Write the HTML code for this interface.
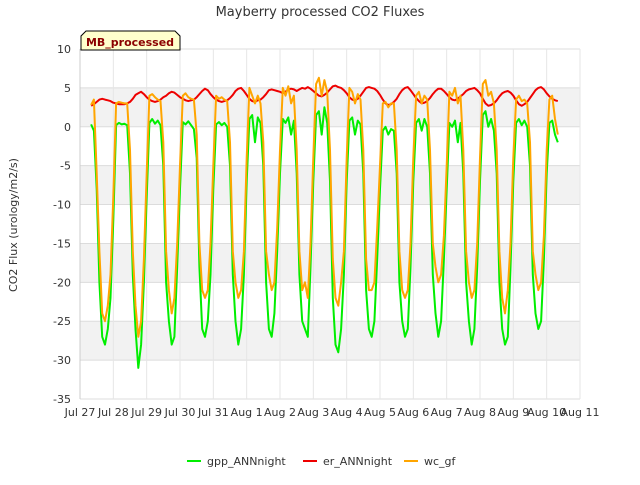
<!DOCTYPE html>
<html><head><meta charset="utf-8"><style>
body{margin:0;background:#fff;font-family:"Liberation Sans","DejaVu Sans",sans-serif}
svg text{font-family:"DejaVu Sans","Liberation Sans",sans-serif}
</style></head><body>
<svg id="chart" width="640" height="480" viewBox="0 0 640 480">
<text x="320" y="16" text-anchor="middle" font-size="13" fill="#333">Mayberry processed CO2 Fluxes</text>
<text transform="translate(17,225) rotate(-90)" text-anchor="middle" font-size="11" fill="#333">CO2 Flux (urology/m2/s)</text>
<g id="grid"></g>
<g id="series"></g>
<g id="axes"></g>
<g>
<path d="M81,50 L81,36 L86,31 L175,31 L180,36 L180,50 Z" fill="#ffffcc" stroke="#000" stroke-width="1"/>
<text x="130" y="46" text-anchor="middle" font-size="11" font-weight="bold" fill="#8b0000">MB_processed</text>
</g>
<g id="legend"></g>
</svg>
<script>
const xTickLabels=["Jul 27","Jul 28","Jul 29","Jul 30","Jul 31","Aug 1","Aug 2","Aug 3","Aug 4","Aug 5","Aug 6","Aug 7","Aug 8","Aug 9","Aug 10","Aug 11"];
const yTicks=[10,5,0,-5,-10,-15,-20,-25,-30,-35];
const seriesNames=["gpp_ANNnight","er_ANNnight","wc_gf"];
const startDay=0.333; // days after Jul 27, 2-hour steps
const stepDays=1/12;
const gpp=[0.3,-0.5,-8,-20,-27,-28,-26,-22,
-12,0.2,0.5,0.3,0.4,0.2,-6,-19,-26,-31,-28,-20,
-9,0.5,1.0,0.4,0.8,0.2,-5,-20,-25,-28,-27,-18,
-8,0.6,0.3,0.7,0.2,-0.3,-4,-18,-26,-27,-25,-19,
-8,0.3,0.6,0.2,0.5,0,-5,-19,-25,-28,-26,-19,
-7,1,1.5,-2,1.2,0.5,-5,-20,-26,-27,-24,-16,
-6,1,0.5,1.2,-1,0.8,-6,-19,-25,-26,-27,-18,
-7,1.5,2,-1,2.5,0.5,-7,-22,-28,-29,-26,-19,
-7,0.8,1.2,-1,0.8,0.3,-6,-21,-26,-27,-25,-17,
-8,-0.5,0,-1,-0.3,-0.5,-6,-20,-25,-27,-26,-18,
-7,0.5,1,-0.5,1,0,-6,-19,-24,-27,-25,-17,
-8,0.5,0,0.8,-2,0.5,-6,-20,-25,-28,-26,-18,
-7,1.5,2,0,1,-0.5,-6,-20,-26,-28,-27,-18,
-7,0.5,1,0.2,0.8,0,-5,-19,-24,-26,-25,-17,
-6,0.5,0.8,-1,-2];
const er=[2.7,2.9,3.2,3.5,3.6,3.5,3.4,3.3,
3.1,3.0,2.9,2.9,2.9,3.0,3.2,3.6,4.1,4.3,4.5,4.2,
3.8,3.5,3.3,3.2,3.3,3.5,3.8,4.0,4.3,4.5,4.4,4.1,
3.8,3.6,3.4,3.3,3.4,3.5,3.8,4.2,4.6,4.9,4.7,4.2,
3.8,3.5,3.3,3.2,3.3,3.4,3.7,4.1,4.6,4.9,5.0,4.6,
4.1,3.6,3.3,3.2,3.4,3.5,3.8,4.2,4.7,4.8,4.7,4.6,
4.5,4.3,4.5,4.8,4.9,4.8,4.6,4.8,5.0,4.9,5.1,4.9,
4.6,4.3,4.0,3.9,4.1,4.4,4.8,5.2,5.3,5.1,5.0,4.7,
4.3,3.8,3.5,3.4,3.6,4.0,4.5,5.0,5.1,5.0,4.9,4.6,
4.1,3.5,3.0,2.8,2.9,3.2,3.6,4.2,4.7,5.0,5.1,4.7,
4.2,3.7,3.3,3.0,3.1,3.3,3.7,4.2,4.6,4.9,4.9,4.6,
4.2,3.8,3.5,3.4,3.6,3.9,4.2,4.6,4.8,4.9,5.0,4.7,
4.3,3.6,3.0,2.7,2.8,3.0,3.4,3.9,4.3,4.5,4.6,4.4,
4.0,3.4,2.9,2.7,2.9,3.2,3.7,4.2,4.7,5.0,5.1,4.8,
4.3,3.9,3.6,3.4,3.3];
const wc=[2.8,3.5,-6,-16,-24,-25,-23,-19,
-9,3,3.2,3.1,3,3,-3,-16,-23,-27,-25,-17,
-6,4,4.2,3.8,3.5,3.3,-2,-16,-21,-24,-22,-15,
-5,4,4.3,3.8,3.6,3.5,-1,-15,-21,-22,-21,-15,
-5,4,3.6,3.8,3.5,3.3,-2,-16,-20,-22,-21,-16,
-4,5,4,3,4,3,-2,-16,-19,-21,-20,-13,
-3,5,4,5.2,3,4,-3,-16,-21,-20,-22,-15,
-4,5.5,6.3,4,6,4.5,-3,-17,-22,-23,-20,-16,
-4,5,4.5,3,4.2,3.5,-3,-17,-21,-21,-20,-13,
-5,3,3.2,2.5,3,3,-3,-16,-21,-22,-21,-15,
-4,4,4.5,3,4,3.5,-3,-15,-18,-20,-19,-14,
-5,4.5,4,5,3,4,-3,-16,-20,-22,-21,-15,
-4,5.5,6,4,4.5,3,-3,-16,-22,-24,-21,-15,
-4,3.5,4,3.3,3.5,3,-2,-16,-19,-21,-20,-14,
-3,3.5,4,1,-1];

const L=80,R=580,T=49,B=399;
const xS=d=>L+d*(R-L)/15;
const yS=v=>T+(10-v)*(B-T)/45;
const NS="http://www.w3.org/2000/svg";
function mk(tag,attrs,parent){const e=document.createElementNS(NS,tag);for(const k in attrs)e.setAttribute(k,attrs[k]);parent.appendChild(e);return e;}
const grid=document.getElementById('grid');
// bands
for(let i=0;i<yTicks.length-1;i++){
  if(i%2===1){const r=mk('rect',{x:L,y:yS(yTicks[i]),width:R-L,height:yS(yTicks[i+1])-yS(yTicks[i]),fill:'#f2f2f2'},grid);
  
  }
}
yTicks.forEach(v=>{const l=mk('line',{x1:L,x2:R,y1:yS(v),y2:yS(v),stroke:'#dcdcdc','stroke-width':1},grid);

});
xTickLabels.forEach((s,i)=>{const l=mk('line',{x1:xS(i),x2:xS(i),y1:T,y2:B,stroke:'#e6e6e6','stroke-width':1},grid);

});
const axes=document.getElementById('axes');
const al=mk('line',{x1:L,x2:L,y1:T,y2:B,stroke:'#ccc'},axes);


yTicks.forEach(v=>{const t=mk('text',{x:L-9,y:yS(v)+4,'text-anchor':'end','font-size':11,fill:'#333'},axes);t.textContent=v;

});
xTickLabels.forEach((s,i)=>{const t=mk('text',{x:xS(i),y:B+17,'text-anchor':'middle','font-size':11,fill:'#333'},axes);t.textContent=s;

});
const sg=document.getElementById('series');
const colors=['#00ee00','#ee0000','#ffa500'];
[gpp,er,wc].forEach((arr,si)=>{
  const pts=arr.map((v,i)=>xS(startDay+i*stepDays).toFixed(1)+','+yS(v).toFixed(1)).join(' ');
  const p=mk('polyline',{points:pts,fill:'none',stroke:colors[si],'stroke-width':2,'stroke-linejoin':'round'},sg);
  
  
});
const lg=document.getElementById('legend');
const lx=[187,303,404];
seriesNames.forEach((n,i)=>{
  const g=mk('g',{},lg);
  
  
  mk('line',{x1:lx[i],x2:lx[i]+14,y1:461,y2:461,stroke:colors[i],'stroke-width':2},g);
  const t=mk('text',{x:lx[i]+20,y:465,'font-size':11,fill:'#333'},g);t.textContent=n;
});
</script>
</body></html>
